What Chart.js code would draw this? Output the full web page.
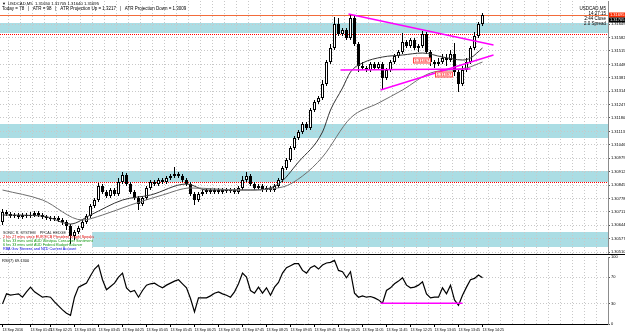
<!DOCTYPE html>
<html>
<head>
<meta charset="utf-8">
<title>USDCAD M5</title>
<script src="https://cdn.jsdelivr.net/npm/chart.js@4.4.1/dist/chart.umd.min.js"></script>
<style>
  body { margin: 0; background: #fff; overflow: hidden; }
  #wrap { position: relative; width: 625px; height: 335px; }
  #price, #rsi { position: absolute; left: 0; }
  #price { top: 0; }
  #rsi { top: 255px; }
  #sep { position: absolute; left: 0; top: 254px; width: 625px; height: 1px; background: #000; }
</style>
</head>
<body>
<div id="wrap">
  <canvas id="price" width="625" height="254"></canvas>
  <div id="sep"></div>
  <canvas id="rsi" width="625" height="80"></canvas>
</div>
<script>
// USDCAD M5 candles, 13 Sep 2016
const opens = [
  1.30660, 1.30710, 1.30700, 1.30690, 1.30695, 1.30685, 1.30695, 1.30690, 1.30695, 1.30705,
  1.30695, 1.30685, 1.30680, 1.30675, 1.30680, 1.30670, 1.30660, 1.30640, 1.30590, 1.30610,
  1.30630, 1.30660, 1.30690, 1.30740, 1.30770, 1.30840, 1.30810, 1.30790, 1.30820, 1.30800,
  1.30860, 1.30895, 1.30850, 1.30810, 1.30780, 1.30750, 1.30780, 1.30830, 1.30860, 1.30850,
  1.30870, 1.30860, 1.30880, 1.30890, 1.30900, 1.30890, 1.30870, 1.30850, 1.30800, 1.30770,
  1.30800, 1.30810, 1.30820, 1.30810, 1.30820, 1.30810, 1.30820, 1.30815, 1.30820, 1.30810,
  1.30830, 1.30870, 1.30890, 1.30850, 1.30830, 1.30840, 1.30820, 1.30830, 1.30820, 1.30840,
  1.30870, 1.30930, 1.30970, 1.31030, 1.31080, 1.31110, 1.31150, 1.31130, 1.31220, 1.31260,
  1.31280, 1.31350, 1.31460, 1.31530, 1.31650, 1.31600, 1.31620, 1.31580, 1.31680, 1.31550,
  1.31440, 1.31430, 1.31420, 1.31450, 1.31430, 1.31450, 1.31380, 1.31420, 1.31460, 1.31490,
  1.31510, 1.31560, 1.31540, 1.31570, 1.31530, 1.31540, 1.31600, 1.31510, 1.31460, 1.31450,
  1.31460, 1.31480, 1.31470, 1.31500, 1.31410, 1.31350, 1.31420, 1.31460, 1.31530, 1.31590, 1.31650
];
const highs = [
  1.30725, 1.30720, 1.30710, 1.30705, 1.30705, 1.30705, 1.30705, 1.30710, 1.30715, 1.30715,
  1.30705, 1.30695, 1.30690, 1.30690, 1.30690, 1.30680, 1.30670, 1.30650, 1.30620, 1.30640,
  1.30670, 1.30700, 1.30750, 1.30780, 1.30855, 1.30850, 1.30820, 1.30830, 1.30830, 1.30880,
  1.30910, 1.30905, 1.30860, 1.30820, 1.30790, 1.30790, 1.30840, 1.30870, 1.30870, 1.30880,
  1.30880, 1.30890, 1.30900, 1.30935, 1.30910, 1.30900, 1.30880, 1.30860, 1.30810, 1.30810,
  1.30820, 1.30830, 1.30830, 1.30830, 1.30830, 1.30830, 1.30830, 1.30830, 1.30830, 1.30840,
  1.30890, 1.30910, 1.30900, 1.30860, 1.30850, 1.30850, 1.30840, 1.30840, 1.30850, 1.30880,
  1.30940, 1.30980, 1.31040, 1.31090, 1.31120, 1.31160, 1.31160, 1.31230, 1.31270, 1.31290,
  1.31370, 1.31470, 1.31550, 1.31685, 1.31680, 1.31630, 1.31630, 1.31700, 1.31690, 1.31560,
  1.31460, 1.31440, 1.31460, 1.31460, 1.31460, 1.31460, 1.31430, 1.31470, 1.31500, 1.31520,
  1.31605, 1.31570, 1.31580, 1.31580, 1.31550, 1.31615, 1.31610, 1.31520, 1.31470, 1.31480,
  1.31500, 1.31500, 1.31520, 1.31555, 1.31420, 1.31440, 1.31480, 1.31540, 1.31610, 1.31660, 1.31705
];
const lows = [
  1.30645, 1.30690, 1.30680, 1.30680, 1.30675, 1.30675, 1.30680, 1.30680, 1.30685, 1.30685,
  1.30675, 1.30670, 1.30665, 1.30665, 1.30660, 1.30645, 1.30620, 1.30550, 1.30570, 1.30600,
  1.30620, 1.30650, 1.30680, 1.30730, 1.30760, 1.30800, 1.30780, 1.30780, 1.30790, 1.30790,
  1.30850, 1.30840, 1.30800, 1.30770, 1.30720, 1.30740, 1.30770, 1.30820, 1.30840, 1.30840,
  1.30850, 1.30850, 1.30870, 1.30880, 1.30880, 1.30860, 1.30840, 1.30790, 1.30745, 1.30760,
  1.30790, 1.30800, 1.30800, 1.30800, 1.30800, 1.30800, 1.30805, 1.30805, 1.30800, 1.30800,
  1.30820, 1.30860, 1.30840, 1.30820, 1.30820, 1.30810, 1.30810, 1.30810, 1.30810, 1.30830,
  1.30860, 1.30920, 1.30960, 1.31020, 1.31070, 1.31100, 1.31120, 1.31120, 1.31210, 1.31250,
  1.31270, 1.31340, 1.31450, 1.31520, 1.31590, 1.31590, 1.31570, 1.31570, 1.31540, 1.31410,
  1.31420, 1.31410, 1.31410, 1.31420, 1.31420, 1.31320, 1.31370, 1.31410, 1.31450, 1.31480,
  1.31500, 1.31530, 1.31530, 1.31520, 1.31510, 1.31530, 1.31500, 1.31440, 1.31430, 1.31440,
  1.31450, 1.31440, 1.31460, 1.31390, 1.31310, 1.31340, 1.31410, 1.31450, 1.31520, 1.31580, 1.31640
];
const closes = [
  1.30710, 1.30700, 1.30690, 1.30695, 1.30685, 1.30695, 1.30690, 1.30695, 1.30705, 1.30695,
  1.30685, 1.30680, 1.30675, 1.30680, 1.30670, 1.30660, 1.30640, 1.30590, 1.30610, 1.30630,
  1.30660, 1.30690, 1.30740, 1.30770, 1.30840, 1.30810, 1.30790, 1.30820, 1.30800, 1.30860,
  1.30895, 1.30850, 1.30810, 1.30780, 1.30750, 1.30780, 1.30830, 1.30860, 1.30850, 1.30870,
  1.30860, 1.30880, 1.30890, 1.30900, 1.30890, 1.30870, 1.30850, 1.30800, 1.30770, 1.30800,
  1.30810, 1.30820, 1.30810, 1.30820, 1.30810, 1.30820, 1.30815, 1.30820, 1.30810, 1.30830,
  1.30870, 1.30890, 1.30850, 1.30830, 1.30840, 1.30820, 1.30830, 1.30820, 1.30840, 1.30870,
  1.30930, 1.30970, 1.31030, 1.31080, 1.31110, 1.31150, 1.31130, 1.31220, 1.31260, 1.31280,
  1.31350, 1.31460, 1.31530, 1.31650, 1.31600, 1.31620, 1.31580, 1.31680, 1.31550, 1.31440,
  1.31430, 1.31420, 1.31450, 1.31430, 1.31450, 1.31380, 1.31420, 1.31460, 1.31490, 1.31510,
  1.31560, 1.31540, 1.31570, 1.31530, 1.31540, 1.31600, 1.31510, 1.31460, 1.31450, 1.31460,
  1.31480, 1.31470, 1.31500, 1.31410, 1.31350, 1.31420, 1.31460, 1.31530, 1.31590, 1.31650, 1.31695
];

// moving averages (bar index, price)
const maFastIdx = [0, 10, 17, 22, 30, 37, 46, 51, 62, 69, 74, 80, 82, 85, 87, 90, 95, 100, 105, 110, 115, 117, 120];
const maFast = [1.30695, 1.30690, 1.30650, 1.30695, 1.30770, 1.30795, 1.30850, 1.30820, 1.30820, 1.30850, 1.30960, 1.31110,
  1.31220, 1.31330, 1.31410, 1.31455, 1.31485, 1.31495, 1.31505, 1.31485, 1.31470, 1.31480, 1.31530];
const maSlowIdx = [0, 10, 20, 25, 32, 40, 47, 60, 70, 75, 80, 87, 94, 100, 107, 116, 120];
const maSlow = [1.30820, 1.30770, 1.30670, 1.30695, 1.30745, 1.30795, 1.30830, 1.30820, 1.30835, 1.30890, 1.30985,
  1.31180, 1.31255, 1.31320, 1.31405, 1.31430, 1.31460];

// RSI(7)
const rsiValues = [
  30, 45, 43, 44, 45, 40, 48, 55, 48, 44,
  40, 41, 40, 33, 27, 21, 16, 13, 40, 55,
  58, 61, 72, 82, 88, 66, 51, 56, 61, 70,
  76, 54, 48, 50, 40, 50, 58, 60, 61, 57,
  54, 58, 61, 64, 66, 60, 54, 38, 18, 39,
  39, 39, 42, 46, 48, 45, 43, 40, 48, 60,
  76, 70, 50, 46, 55, 46, 54, 43, 55, 62,
  76, 84, 87, 90, 90, 80, 76, 84, 87, 82,
  88, 91, 92, 95, 80, 78, 69, 78, 46, 40,
  42, 40, 41, 39, 36, 31, 50, 54, 60, 64,
  69, 58, 54, 55, 58, 63, 45, 39, 40, 40,
  54, 45, 58, 36, 28, 43, 55, 66, 68, 73, 69.13
];

// supply / demand zones and levels
const zoneHigh = [1.31655, 1.31150, 1.30915, 1.30610];
const zoneLow = [1.31605, 1.31080, 1.30860, 1.30535];
const zoneFrom = [null, null, null, 22.4];
const dottedLevels = [1.31600, 1.30860];

// triangle lines [bar, price]
const trendFrom = [[86.5, 1.31700], [94.5, 1.31320], [84.5, 1.31420]];
const trendTo = [[122.75, 1.31545], [122.75, 1.31495], [117, 1.31425]];
const rsiTrend = [[94.5, 31], [115, 31]];

// price labels on chart
const tagFrom = [102.75, 108.25];
const tagTo = [107, 112.5];
const tagHigh = [1.31480, 1.31410];
const tagLow = [1.31455, 1.31385];
const tagText = ['1.31467', '1.31397'];

// axes
const priceTicks = [1.30510, 1.30577, 1.30644, 1.30711, 1.30778, 1.30845, 1.30912, 1.30979, 1.31046,
  1.31113, 1.31180, 1.31247, 1.31314, 1.31381, 1.31448, 1.31515, 1.31582, 1.31649];
const rsiTicks = [0, 30, 70, 100];
const timeTickIdx = [0, 7, 12, 18, 24, 30, 36, 42, 48, 54, 60, 66, 72, 78, 84, 90, 96, 102, 108, 114, 120];
const timeLabels = ['13 Sep 2016', '13 Sep 01:45', '13 Sep 02:25', '13 Sep 03:05', '13 Sep 03:45', '13 Sep 04:25',
  '13 Sep 05:05', '13 Sep 05:45', '13 Sep 06:25', '13 Sep 07:05', '13 Sep 07:45', '13 Sep 08:25', '13 Sep 09:05',
  '13 Sep 09:45', '13 Sep 10:25', '13 Sep 11:05', '13 Sep 11:45', '13 Sep 12:25', '13 Sep 13:05', '13 Sep 13:45',
  '13 Sep 14:25'];

const newsLines = [
  'SONIC R. SYSTEM    PPCAL HEDGE',
  '2 hrs 27 mins since EUR ECB President Draghi Speaks',
  '6 hrs 33 mins until AUD Westpac Consumer Sentiment',
  '6 hrs 33 mins until AUD Federal Budget Balance',
  'RBA Gov Stevens and NZD Current Account'
];
const newsColors = ['#222', '#e00000', '#119911', '#119911', '#0000dd'];

const xMin = -0.625, xMax = 151.375;
const FONT = '"Liberation Sans", Arial, sans-serif';
Chart.defaults.font.family = FONT;
Chart.defaults.color = '#000';

const last = closes.length - 1;

function vGrid(chart) {
  const { ctx, chartArea: a, scales: { x } } = chart;
  ctx.save();
  ctx.strokeStyle = '#c8c8c8';
  ctx.lineWidth = 1;
  ctx.setLineDash([1, 2]);
  for (let v = 1.375; v < xMax; v += 3) {
    const px = Math.round(x.getPixelForValue(v)) + 0.5;
    ctx.beginPath();
    ctx.moveTo(px, a.top);
    ctx.lineTo(px, a.bottom);
    ctx.stroke();
  }
  ctx.restore();
}

const priceOverlay = {
  id: 'priceOverlay',
  beforeDraw(chart) {
    const { ctx, chartArea: a, scales: { x, y } } = chart;
    ctx.save();
    ctx.fillStyle = '#abdde4';
    zoneHigh.forEach((hi, k) => {
      const x0 = zoneFrom[k] == null ? a.left : x.getPixelForValue(zoneFrom[k]);
      const top = y.getPixelForValue(hi);
      const bot = y.getPixelForValue(zoneLow[k]);
      ctx.fillRect(x0, top, a.right - x0, bot - top);
    });
    ctx.restore();
    vGrid(chart);
  },
  beforeDatasetsDraw(chart) {
    const { ctx, chartArea: a, scales: { y } } = chart;
    ctx.save();
    ctx.lineWidth = 1;
    ctx.strokeStyle = '#ff0000';
    ctx.setLineDash([1, 1]);
    dottedLevels.forEach(p => {
      const py = Math.round(y.getPixelForValue(p)) + 0.5;
      ctx.beginPath(); ctx.moveTo(a.left, py); ctx.lineTo(a.right, py); ctx.stroke();
    });
    ctx.setLineDash([]);
    ctx.strokeStyle = '#f26b3a';
    const by = Math.round(y.getPixelForValue(closes[last])) + 0.5;
    ctx.beginPath(); ctx.moveTo(a.left, by); ctx.lineTo(a.right, by); ctx.stroke();
    ctx.restore();
  },
  afterDatasetsDraw(chart) {
    const { ctx, scales: { x, y } } = chart;
    ctx.save();
    ctx.strokeStyle = '#ff00ff';
    ctx.lineWidth = 1.4;
    trendFrom.forEach((p, k) => {
      ctx.beginPath();
      ctx.moveTo(x.getPixelForValue(p[0]), y.getPixelForValue(p[1]));
      ctx.lineTo(x.getPixelForValue(trendTo[k][0]), y.getPixelForValue(trendTo[k][1]));
      ctx.stroke();
    });
    ctx.lineWidth = 1;
    ctx.font = '4px ' + FONT;
    ctx.textAlign = 'center';
    ctx.textBaseline = 'middle';
    tagFrom.forEach((f, k) => {
      const x0 = x.getPixelForValue(f), x1 = x.getPixelForValue(tagTo[k]);
      const y0 = y.getPixelForValue(tagHigh[k]), y1 = y.getPixelForValue(tagLow[k]);
      ctx.fillStyle = '#ffe8e8';
      ctx.fillRect(x0, y0, x1 - x0, y1 - y0);
      ctx.strokeStyle = '#ff4040';
      ctx.strokeRect(x0, y0, x1 - x0, y1 - y0);
      ctx.fillStyle = '#ff0000';
      ctx.fillText(tagText[k], (x0 + x1) / 2, (y0 + y1) / 2);
    });
    ctx.restore();
  },
  afterDraw(chart) {
    const { ctx, chartArea: a, scales: { y } } = chart;
    ctx.save();
    ctx.textBaseline = 'middle';
    ctx.textAlign = 'left';
    ctx.fillStyle = '#000';
    ctx.font = '4px ' + FONT;
    ctx.fillText('\u25BC', 2, 4);
    ctx.font = '4.2px ' + FONT;
    ctx.fillText('USDCAD,M5  ' + opens[last].toFixed(5) + ' ' + highs[last].toFixed(5) + ' ' +
      lows[last].toFixed(5) + ' ' + closes[last].toFixed(5), 8, 4);
    ctx.font = '4.5px ' + FONT;
    ctx.fillText('Today = 78   |   ATR = 98   |   ATR Projection Up = 1.3217   |   ATR Projection Down = 1.3009', 2, 9);

    ctx.textAlign = 'right';
    ctx.font = '4.5px ' + FONT;
    ['USDCAD,M5', '14:27:15', '2:44 Close', '2.0 Spread'].forEach((t, k) => ctx.fillText(t, 606, 9 + k * 5));

    ctx.textAlign = 'left';
    ctx.font = '3.7px ' + FONT;
    newsLines.forEach((t, k) => {
      ctx.fillStyle = newsColors[k];
      ctx.fillText(t, 3, 233 + k * 4);
    });

    const py = y.getPixelForValue(closes[last]);
    ctx.fillStyle = '#ff2a00';
    ctx.fillRect(a.right + 1, py - 2.5, 16, 5);
    ctx.fillStyle = '#000';
    ctx.fillRect(a.right + 1, py + 2.5, 16, 5);
    ctx.fillStyle = '#fff';
    ctx.font = '4px ' + FONT;
    ctx.fillText(closes[last].toFixed(5), a.right + 2, py);
    ctx.fillText(highs[last].toFixed(5), a.right + 2, py + 5);
    ctx.restore();
  }
};

const rsiOverlay = {
  id: 'rsiOverlay',
  beforeDraw(chart) { vGrid(chart); },
  afterDatasetsDraw(chart) {
    const { ctx, scales: { x, y } } = chart;
    ctx.save();
    ctx.strokeStyle = '#ff00ff';
    ctx.lineWidth = 1.4;
    ctx.beginPath();
    ctx.moveTo(x.getPixelForValue(rsiTrend[0][0]), y.getPixelForValue(rsiTrend[0][1]));
    ctx.lineTo(x.getPixelForValue(rsiTrend[1][0]), y.getPixelForValue(rsiTrend[1][1]));
    ctx.stroke();
    ctx.fillStyle = '#000';
    ctx.font = '4px ' + FONT;
    ctx.textBaseline = 'middle';
    ctx.fillText('RSI(7) ' + rsiValues[last].toFixed(4), 2, chart.chartArea.top + 4);
    ctx.restore();
  }
};

new Chart(document.getElementById('price'), {
  type: 'bar',
  data: {
    datasets: [
      {
        label: 'wick',
        data: closes.map((c, i) => ({ x: i, y: [lows[i], highs[i]] })),
        backgroundColor: '#000',
        barThickness: 1,
        grouped: false,
        inflateAmount: 0,
        order: 3
      },
      {
        label: 'body',
        data: closes.map((c, i) => ({ x: i, y: [opens[i], c] })),
        backgroundColor: ctx => closes[ctx.dataIndex] >= opens[ctx.dataIndex] ? '#fff' : '#000',
        borderColor: '#000',
        borderWidth: 1,
        borderSkipped: false,
        barThickness: 3,
        minBarLength: 1,
        grouped: false,
        inflateAmount: 0,
        order: 2
      },
      {
        type: 'line',
        label: 'MA slow',
        data: maSlowIdx.map((i, k) => ({ x: i, y: maSlow[k] })),
        borderColor: '#6e6e6e',
        borderWidth: 1,
        pointRadius: 0,
        cubicInterpolationMode: 'monotone',
        order: 1
      },
      {
        type: 'line',
        label: 'MA fast',
        data: maFastIdx.map((i, k) => ({ x: i, y: maFast[k] })),
        borderColor: '#333',
        borderWidth: 1,
        pointRadius: 0,
        cubicInterpolationMode: 'monotone',
        order: 1
      }
    ]
  },
  options: {
    responsive: false,
    animation: false,
    devicePixelRatio: 1,
    events: [],
    layout: { padding: { top: 1, bottom: 0, left: 0, right: 0 } },
    plugins: { legend: { display: false }, tooltip: { enabled: false } },
    scales: {
      x: { type: 'linear', display: false, min: xMin, max: xMax, offset: false },
      y: {
        position: 'right',
        min: 1.30500,
        max: 1.31765,
        beginAtZero: false,
        afterBuildTicks: s => { s.ticks = priceTicks.map(v => ({ value: v })); },
        afterFit: s => { s.width = 17; s.paddingTop = 0; s.paddingBottom = 0; },
        ticks: { font: { size: 4 }, padding: 1, color: '#000', callback: v => v.toFixed(5) },
        grid: { color: '#c8c8c8', tickLength: 2, tickColor: '#555' },
        border: { display: true, color: '#8c8c8c', dash: [1, 2] }
      }
    }
  },
  plugins: [priceOverlay]
});

new Chart(document.getElementById('rsi'), {
  type: 'line',
  data: {
    datasets: [{
      label: 'RSI',
      data: rsiValues.map((v, i) => ({ x: i, y: v })),
      borderColor: '#000',
      borderWidth: 1.2,
      pointRadius: 0,
      tension: 0
    }]
  },
  options: {
    responsive: false,
    animation: false,
    devicePixelRatio: 1,
    events: [],
    layout: { padding: { top: 2, bottom: 0, left: 0, right: 0 } },
    plugins: { legend: { display: false }, tooltip: { enabled: false } },
    scales: {
      x: {
        type: 'linear',
        min: xMin,
        max: xMax,
        offset: false,
        afterBuildTicks: s => { s.ticks = timeTickIdx.map(v => ({ value: v })); },
        afterFit: s => { s.height = 11; s.paddingLeft = 0; s.paddingRight = 0; },
        ticks: {
          autoSkip: false, maxRotation: 0, minRotation: 0, align: 'start', padding: 1,
          font: { size: 3.6 }, color: '#000',
          callback: v => timeLabels[timeTickIdx.indexOf(v)]
        },
        grid: { drawOnChartArea: false, drawTicks: true, tickLength: 3, color: '#000' },
        border: { display: true, color: '#000' }
      },
      y: {
        position: 'right',
        min: 0,
        max: 100,
        afterBuildTicks: s => { s.ticks = rsiTicks.map(v => ({ value: v })); },
        afterFit: s => { s.width = 17; s.paddingTop = 0; s.paddingBottom = 0; },
        ticks: { font: { size: 4 }, padding: 1, color: '#000' },
        grid: {
          color: c => (c.tick && (c.tick.value === 30 || c.tick.value === 70)) ? '#c8c8c8' : 'rgba(0,0,0,0)',
          tickLength: 2,
          tickColor: '#555'
        },
        border: { display: true, color: '#8c8c8c', dash: [1, 2] }
      }
    }
  },
  plugins: [rsiOverlay]
});
</script>
</body>
</html>
